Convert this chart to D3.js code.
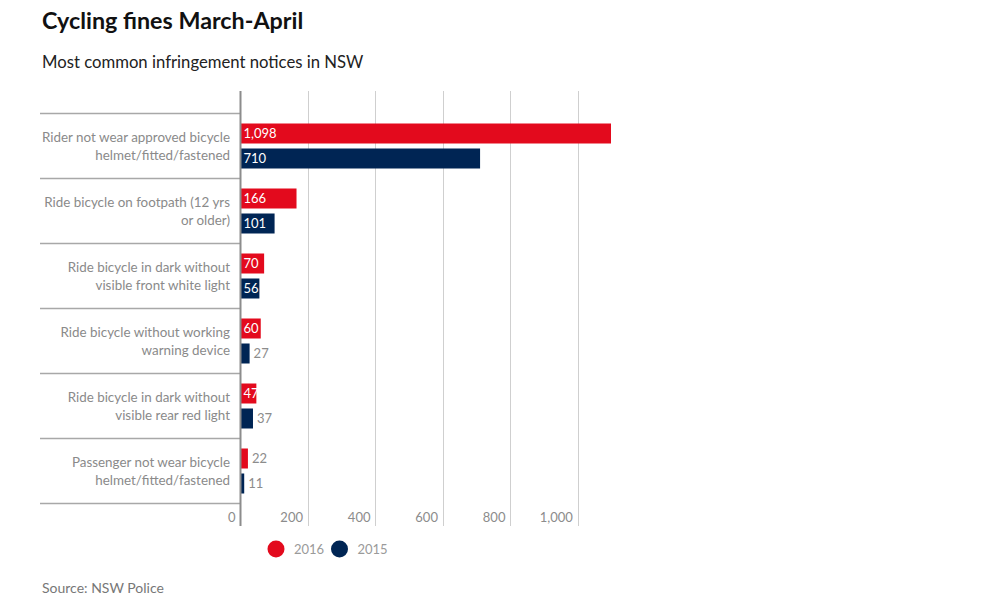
<!DOCTYPE html>
<html>
<head>
<meta charset="utf-8">
<script src="https://cdn.jsdelivr.net/npm/d3@7"></script>
<style>
body { margin: 0; background: #fff; }
text { font-family: Lato, "Open Sans", sans-serif; }
</style>
</head>
<body>
<div id="chart"></div>
<script>
// data
var categories = [
    ["Rider not wear approved bicycle", "helmet/fitted/fastened"],
    ["Ride bicycle on footpath (12 yrs", "or older)"],
    ["Ride bicycle in dark without", "visible front white light"],
    ["Ride bicycle without working", "warning device"],
    ["Ride bicycle in dark without", "visible rear red light"],
    ["Passenger not wear bicycle", "helmet/fitted/fastened"]
];
var series = ["2016", "2015"];
var values2016 = [1098, 166, 70, 60, 47, 22];
var values2015 = [710, 101, 56, 27, 37, 11];
var xTicks = [0, 200, 400, 600, 800, 1000];
var colors = { "2016": "#e30a1d", "2015": "#002554" };

var w = 983, h = 603;
var svg = d3.select("#chart").append("svg")
    .attr("width", w)
    .attr("height", h);

svg.append("text").attr("x", 42).attr("y", 29)
    .attr("font-size", 23.3).attr("font-weight", 700).attr("fill", "#111")
    .text("Cycling fines March-April");
svg.append("text").attr("x", 42).attr("y", 68)
    .attr("font-size", 16.7).attr("fill", "#222")
    .text("Most common infringement notices in NSW");
svg.append("text").attr("x", 42).attr("y", 593)
    .attr("font-size", 14).attr("fill", "#777")
    .text("Source: NSW Police");

var x = d3.scaleLinear().domain([0, 1098]).range([240.5, 611]);
var y = d3.scaleBand().domain(d3.range(categories.length)).range([113.5, 503.5]);
var ys = d3.scaleBand().domain(series).range([10, 55]).paddingInner(0.2);

// gridlines
svg.append("g").selectAll("line")
    .data(xTicks.slice(1))
    .enter().append("line")
    .attr("x1", function (d) { return Math.round(x(d)) + 0.5; })
    .attr("x2", function (d) { return Math.round(x(d)) + 0.5; })
    .attr("y1", 91).attr("y2", 526)
    .attr("stroke", "#cfcfcf").attr("stroke-width", 1);

// tick labels
svg.append("g").selectAll("text")
    .data(xTicks)
    .enter().append("text")
    .attr("x", function (d) { return x(d) - 5; })
    .attr("y", 522)
    .attr("text-anchor", "end")
    .attr("font-size", 13)
    .attr("fill", "#8c8c8c")
    .text(function (d) { return d3.format(",")(d); });

// category separators
var seps = d3.range(categories.length + 1);
svg.append("g").selectAll("line")
    .data(seps)
    .enter().append("line")
    .attr("x1", 40).attr("x2", 240)
    .attr("y1", function (i) { return i < categories.length ? y(i) : y(i - 1) + y.bandwidth(); })
    .attr("y2", function (i) { return i < categories.length ? y(i) : y(i - 1) + y.bandwidth(); })
    .attr("stroke", "#a8a8a8").attr("stroke-width", 1.5);

// category labels
var labels = svg.append("g").selectAll("text")
    .data(categories)
    .enter().append("text")
    .attr("text-anchor", "end")
    .attr("font-size", 13.4)
    .attr("fill", "#8a8a8a");
labels.append("tspan")
    .attr("x", 230)
    .attr("y", function (d, i) { return y(i) + y.bandwidth() / 2 - 4; })
    .text(function (d) { return d[0]; });
labels.append("tspan")
    .attr("x", 230)
    .attr("y", function (d, i) { return y(i) + y.bandwidth() / 2 + 13.5; })
    .text(function (d) { return d[1]; });

// bars
var rows = [];
categories.forEach(function (c, i) {
    rows.push({ i: i, s: "2016", v: values2016[i] });
    rows.push({ i: i, s: "2015", v: values2015[i] });
});
var bars = svg.append("g").selectAll("g")
    .data(rows)
    .enter().append("g");
bars.append("rect")
    .attr("x", x(0))
    .attr("y", function (d) { return y(d.i) + ys(d.s); })
    .attr("width", function (d) { return x(d.v) - x(0); })
    .attr("height", ys.bandwidth())
    .attr("fill", function (d) { return colors[d.s]; });
bars.append("text")
    .attr("x", function (d) { return d.v >= 40 ? x(0) + 3 : x(d.v) + 4; })
    .attr("y", function (d) { return y(d.i) + ys(d.s) + ys.bandwidth() / 2 + 4.5; })
    .attr("font-size", 13)
    .attr("fill", function (d) { return d.v >= 40 ? "#fff" : "#8c8c8c"; })
    .text(function (d) { return d3.format(",")(d.v); });

// zero axis line
svg.append("line")
    .attr("x1", x(0)).attr("x2", x(0))
    .attr("y1", 91).attr("y2", 526)
    .attr("stroke", "#8c8c8c").attr("stroke-width", 2);

// legend
var legend = svg.append("g").selectAll("g")
    .data(series)
    .enter().append("g")
    .attr("transform", function (d, i) { return "translate(" + (276 + i * 63.5) + ",549)"; });
legend.append("circle").attr("r", 8.5)
    .attr("fill", function (d) { return colors[d]; });
legend.append("text").attr("x", 18).attr("y", 5)
    .attr("font-size", 13).attr("fill", "#9a9a9a")
    .text(function (d) { return d; });
</script>
</body>
</html>
